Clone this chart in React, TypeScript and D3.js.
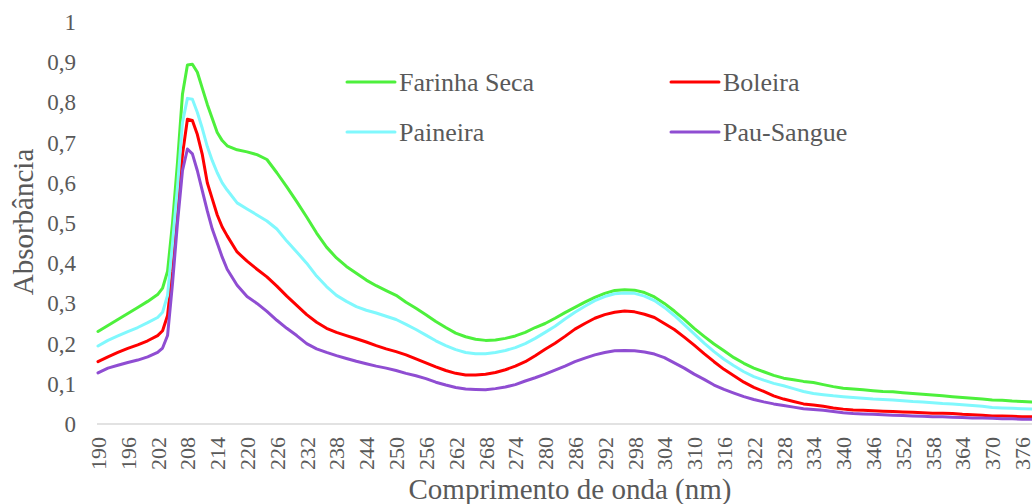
import React from "react";
import * as d3 from "d3";

const wavelengths = [
  190, 192, 194, 196, 198, 200, 202,
  203, 204, 205, 206, 207, 208, 209, 210, 211, 212, 213, 214, 215, 216,
  218, 220, 222, 224, 226, 228, 230, 232, 234, 236, 238, 240, 242, 244, 246, 248, 250,
  252, 254, 256, 258, 260, 262, 264, 266, 268, 270, 272, 274, 276, 278, 280,
  282, 284, 286, 288, 290, 292, 294, 296, 298, 300, 302, 304, 306, 308, 310,
  312, 314, 316, 318, 320, 322, 324, 326, 328, 330, 332, 334, 336, 338, 340,
  342, 344, 346, 348, 350, 352, 354, 356, 358, 360, 362, 364, 366, 368, 370,
  372, 374, 376, 378,
];

const farinhaSeca = [
  0.23, 0.245, 0.26, 0.275, 0.29, 0.305, 0.322,
  0.338, 0.38, 0.5, 0.65, 0.82, 0.893, 0.895, 0.875, 0.835, 0.795, 0.76, 0.725, 0.705, 0.692,
  0.682, 0.677, 0.67, 0.658, 0.625, 0.59, 0.553, 0.515, 0.475, 0.44, 0.413, 0.392, 0.375, 0.358, 0.344, 0.332, 0.32,
  0.303, 0.288, 0.272, 0.255, 0.24, 0.226, 0.217, 0.211, 0.208, 0.209, 0.213, 0.219, 0.228, 0.24, 0.25,
  0.263, 0.277, 0.29, 0.303, 0.315, 0.325, 0.332, 0.334, 0.333, 0.327, 0.316, 0.3, 0.281, 0.26, 0.238,
  0.218, 0.199, 0.182, 0.165, 0.151, 0.139, 0.13, 0.121, 0.114, 0.11, 0.106, 0.103, 0.098, 0.093, 0.089,
  0.087, 0.085, 0.083, 0.081, 0.08, 0.078, 0.076, 0.074, 0.072, 0.07, 0.068, 0.066, 0.064, 0.062, 0.06,
  0.059, 0.057, 0.056, 0.055,
];

const boleira = [
  0.155, 0.167, 0.178, 0.188, 0.197, 0.207, 0.22,
  0.232, 0.27, 0.38, 0.53, 0.67, 0.758, 0.755, 0.72, 0.67, 0.6, 0.56, 0.52, 0.49, 0.468,
  0.428, 0.405, 0.385, 0.366, 0.343, 0.318, 0.295, 0.272, 0.253, 0.238, 0.228, 0.22, 0.212, 0.204, 0.195, 0.187, 0.18,
  0.172, 0.162, 0.152, 0.142, 0.133, 0.126, 0.122, 0.122, 0.124, 0.128, 0.135, 0.144, 0.155, 0.17, 0.186,
  0.201, 0.218, 0.236, 0.25, 0.263, 0.272, 0.278, 0.281, 0.279, 0.273, 0.265, 0.25, 0.235, 0.216, 0.196,
  0.175, 0.155, 0.136, 0.12, 0.104, 0.091, 0.081, 0.07, 0.062, 0.056, 0.05, 0.047, 0.044, 0.04, 0.037,
  0.035, 0.034, 0.033, 0.032, 0.031, 0.03, 0.029, 0.028, 0.027, 0.027, 0.026, 0.024, 0.023, 0.022, 0.02,
  0.02, 0.019, 0.018, 0.018,
];

const paineira = [
  0.194, 0.208, 0.219, 0.23, 0.24, 0.252, 0.265,
  0.278, 0.32, 0.45, 0.59, 0.75, 0.81, 0.808, 0.775, 0.735, 0.69, 0.655, 0.625, 0.6, 0.582,
  0.55, 0.535, 0.52, 0.505, 0.485, 0.455, 0.428, 0.4, 0.368, 0.342, 0.32, 0.305, 0.292, 0.283, 0.276, 0.268, 0.26,
  0.248, 0.235, 0.221, 0.207, 0.195, 0.185, 0.178, 0.175, 0.175, 0.178, 0.183, 0.19, 0.2, 0.213, 0.228,
  0.243, 0.261, 0.278, 0.293, 0.307, 0.317, 0.324, 0.326, 0.325, 0.318, 0.307, 0.29, 0.27, 0.247, 0.224,
  0.201, 0.18, 0.161, 0.145, 0.13, 0.118, 0.109, 0.101, 0.095, 0.088, 0.081, 0.076, 0.073, 0.07, 0.068,
  0.066, 0.064, 0.062, 0.061, 0.06, 0.058, 0.056, 0.055, 0.053, 0.051, 0.05, 0.048, 0.046, 0.044, 0.041,
  0.04, 0.039, 0.038, 0.037,
];

const pauSangue = [
  0.127, 0.139, 0.146, 0.153, 0.159, 0.167, 0.178,
  0.189, 0.22, 0.35, 0.5, 0.63, 0.684, 0.672, 0.63, 0.58, 0.53, 0.485, 0.45, 0.415, 0.385,
  0.345, 0.317, 0.3, 0.28, 0.258, 0.238, 0.22, 0.2, 0.187, 0.178, 0.17, 0.163, 0.156, 0.15, 0.144, 0.139, 0.133,
  0.126, 0.12, 0.113, 0.104, 0.097, 0.091, 0.087, 0.086, 0.085, 0.088, 0.092, 0.098, 0.107, 0.115, 0.124,
  0.134, 0.144, 0.155, 0.164, 0.172, 0.178, 0.182, 0.183, 0.182, 0.179, 0.174, 0.165, 0.152, 0.139, 0.124,
  0.111, 0.097, 0.086, 0.077, 0.068, 0.061, 0.055, 0.05, 0.046, 0.042, 0.038, 0.036, 0.034, 0.031, 0.028,
  0.026, 0.025, 0.024, 0.023, 0.022, 0.021, 0.02, 0.019, 0.018, 0.018, 0.017, 0.016, 0.015, 0.015, 0.014,
  0.013, 0.013, 0.012, 0.012,
];

const seriesNames = ["Farinha Seca", "Boleira", "Paineira", "Pau-Sangue"];
const seriesColors = ["#4DF03C", "#FF0000", "#80F8FD", "#8F4DD2"];
const seriesValues = [farinhaSeca, boleira, paineira, pauSangue];

const xTickValues = d3.range(190, 377, 6);
const yTickValues = d3.range(0, 11).map((i) => i / 10);

const W = 1032;
const H = 504;
const TITLE_FONT = { fontFamily: '"Liberation Serif"' };
const SMALL_FONT = { fontFamily: 'Tinos, "Liberation Serif"' };
const TEXT = "#595959";

export default function App() {
  const x = d3.scaleLinear().domain([190, 378]).range([98, 1032]);
  const y = d3.scaleLinear().domain([0, 1]).range([424, 22]);
  const line = d3
    .line<number>()
    .x((_, i) => x(wavelengths[i]))
    .y((d) => y(d));
  const fmt = (v: number) => (v === 0 ? "0" : v === 1 ? "1" : d3.format(".1f")(v).replace(".", ","));

  const legendPos = [
    { lx: 347, ty: 82 },
    { lx: 671, ty: 82 },
    { lx: 347, ty: 132 },
    { lx: 671, ty: 132 },
  ];

  return (
    <svg
      width={W}
      height={H}
      style={{ position: "absolute", left: 0, top: 0, background: "#fff" }}
    >
      {/* y ticks */}
      {yTickValues.map((v) => (
        <text
          key={v}
          x={76}
          y={y(v) + 8}
          textAnchor="end"
          fontSize={23}
          fill={TEXT}
          style={SMALL_FONT}
        >
          {fmt(v)}
        </text>
      ))}
      {/* x axis line */}
      <line x1={97} x2={W} y1={y(0)} y2={y(0)} stroke="#D9D9D9" strokeWidth={1.5} />
      {/* x ticks */}
      {xTickValues.map((v) => (
        <text
          key={v}
          transform={`translate(${x(v) + 8},437) rotate(-90)`}
          textAnchor="end"
          fontSize={22}
          fill={TEXT}
          style={SMALL_FONT}
        >
          {v}
        </text>
      ))}
      {/* lines */}
      <g>
        {seriesValues.map((vals, i) => (
          <path
            key={seriesNames[i]}
            d={line(vals) || ""}
            fill="none"
            stroke={seriesColors[i]}
            strokeWidth={3}
            strokeLinejoin="round"
            strokeLinecap="round"
          />
        ))}
      </g>
      {/* legend */}
      {seriesNames.map((n, i) => (
        <g key={n}>
          <line
            x1={legendPos[i].lx}
            x2={legendPos[i].lx + 48}
            y1={legendPos[i].ty}
            y2={legendPos[i].ty}
            stroke={seriesColors[i]}
            strokeWidth={3}
            strokeLinecap="round"
          />
          <text
            x={legendPos[i].lx + 52}
            y={legendPos[i].ty + 9}
            fontSize={26}
            fill={TEXT}
            style={SMALL_FONT}
          >
            {n}
          </text>
        </g>
      ))}
      {/* axis titles */}
      <text
        transform={`translate(33,222) rotate(-90)`}
        textAnchor="middle"
        fontSize={29}
        fill={TEXT}
        style={TITLE_FONT}
      >
        Absorbância
      </text>
      <text x={570} y={499} textAnchor="middle" fontSize={29} fill={TEXT} style={TITLE_FONT}>
        Comprimento de onda (nm)
      </text>
    </svg>
  );
}
